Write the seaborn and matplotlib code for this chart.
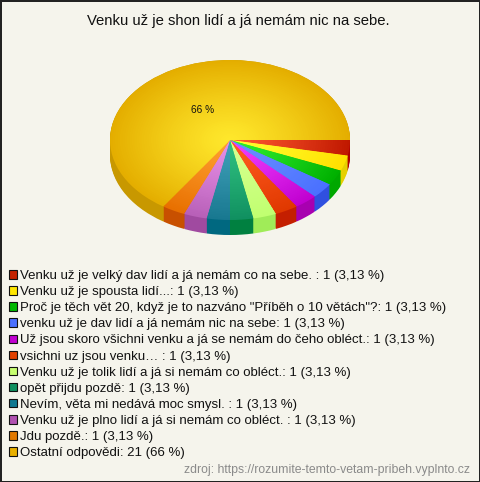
import numpy as np
import matplotlib
matplotlib.use("Agg")
import matplotlib.pyplot as plt
from matplotlib.patches import Rectangle
import seaborn as sns

title = "Venku už je shon lidí a já nemám nic na sebe."
categories = [
    "Venku už je velký dav lidí a já nemám co na sebe. ",
    "Venku už je spousta lidí...",
    "Proč je těch vět 20, když je to nazváno \"Příběh o 10 větách\"?",
    "venku už je dav lidí a já nemám nic na sebe",
    "Už jsou skoro všichni venku a já se nemám do čeho obléct.",
    "vsichni uz jsou venku… ",
    "Venku už je tolik lidí a já si nemám co obléct.",
    "opět přijdu pozdě",
    "Nevím, věta mi nedává moc smysl. ",
    "Venku už je plno lidí a já si nemám co obléct. ",
    "Jdu pozdě.",
    "Ostatní odpovědi",
]
counts = [1, 1, 1, 1, 1, 1, 1, 1, 1, 1, 1, 21]
percents = ["3,13"] * 11 + ["66"]
legend_colors = ["#c42200", "#ffe600", "#00b800", "#4a70ff", "#c000d0", "#e04000",
                 "#c8ff70", "#109060", "#107890", "#b050b0", "#e07800", "#e8b000"]
inner_colors = ["#ff5a30", "#ffff30", "#30f030", "#6a90ff", "#f040ff", "#ff5c20",
                "#d8ff90", "#30c080", "#40a0b8", "#e890e8", "#ffa030", "#ffe82c"]
edge_colors = ["#c01800", "#ffe000", "#00b000", "#4a70ff", "#c000d0", "#e03800",
               "#c0ff70", "#109060", "#187890", "#b860b8", "#e87000", "#e4ae00"]
side_colors = ["#b00000", "#e6d000", "#00a800", "#3050e0", "#a800b0", "#c41f00",
               "#a0ec58", "#008040", "#006880", "#a04aa0", "#c85000", "#c89800"]
pct_label = "66 %"
source = "zdroj: https://rozumite-temto-vetam-pribeh.vyplnto.cz"

sns.set_theme(style="white")
plt.rcParams["font.family"] = ["Liberation Sans", "DejaVu Sans"]

W, H = 480, 482
fig = plt.figure(figsize=(W / 100, H / 100), dpi=100, facecolor="#f5f4ec",
                 edgecolor="#222222", linewidth=0.9)

margin = 1.25
ax = fig.add_axes([(230 - 120 * margin) / W, 1 - (140 + 80 * margin) / H,
                   240 * margin / W, 160 * margin / H])
ax.set_facecolor("none")

depth = 15 / 80
rgb_in = np.array(sns.color_palette(inner_colors))
rgb_out = np.array(sns.color_palette(edge_colors))

for off in np.linspace(depth, 0, 16):
    ax.pie(counts, startangle=0, counterclock=False, center=(0, -off),
           colors=side_colors, radius=1.0, frame=False,
           wedgeprops=dict(linewidth=0))

for r in np.linspace(1.0, 0.02, 50):
    t = r ** 1.2
    cols = [tuple(c) for c in rgb_in + (rgb_out - rgb_in) * t]
    ax.pie(counts, startangle=0, counterclock=False, colors=cols,
           radius=r, frame=False, wedgeprops=dict(linewidth=0))
ax.set_aspect("auto")
ax.set_xlim(-margin, margin)
ax.set_ylim(-margin, margin)
ax.axis("off")

fig.text(238 / W, 1 - 21 / H, title, ha="center", va="center", fontsize=10.7, color="#111111")
fig.text(203 / W, 1 - 110 / H, pct_label, ha="center", va="center", fontsize=7.3, color="#111111")
fig.text(470 / W, 1 - 470 / H, source, ha="right", va="center", fontsize=8.8, color="#8a8a8a")

handles = [Rectangle((0, 0), 1, 1, facecolor=c, edgecolor="#111111", linewidth=0.8)
           for c in legend_colors]
labels = [f"{c}: {n} ({p} %)" for c, n, p in zip(categories, counts, percents)]
fig.legend(handles, labels, loc="upper left", bbox_to_anchor=(9 / W, 1 - 270 / H),
           frameon=False, fontsize=9.55, labelspacing=0.31, handlelength=0.6,
           handleheight=0.6, handletextpad=0.2, borderpad=0, borderaxespad=0,
           labelcolor="#111111")

fig.savefig("out.png", dpi=100)
